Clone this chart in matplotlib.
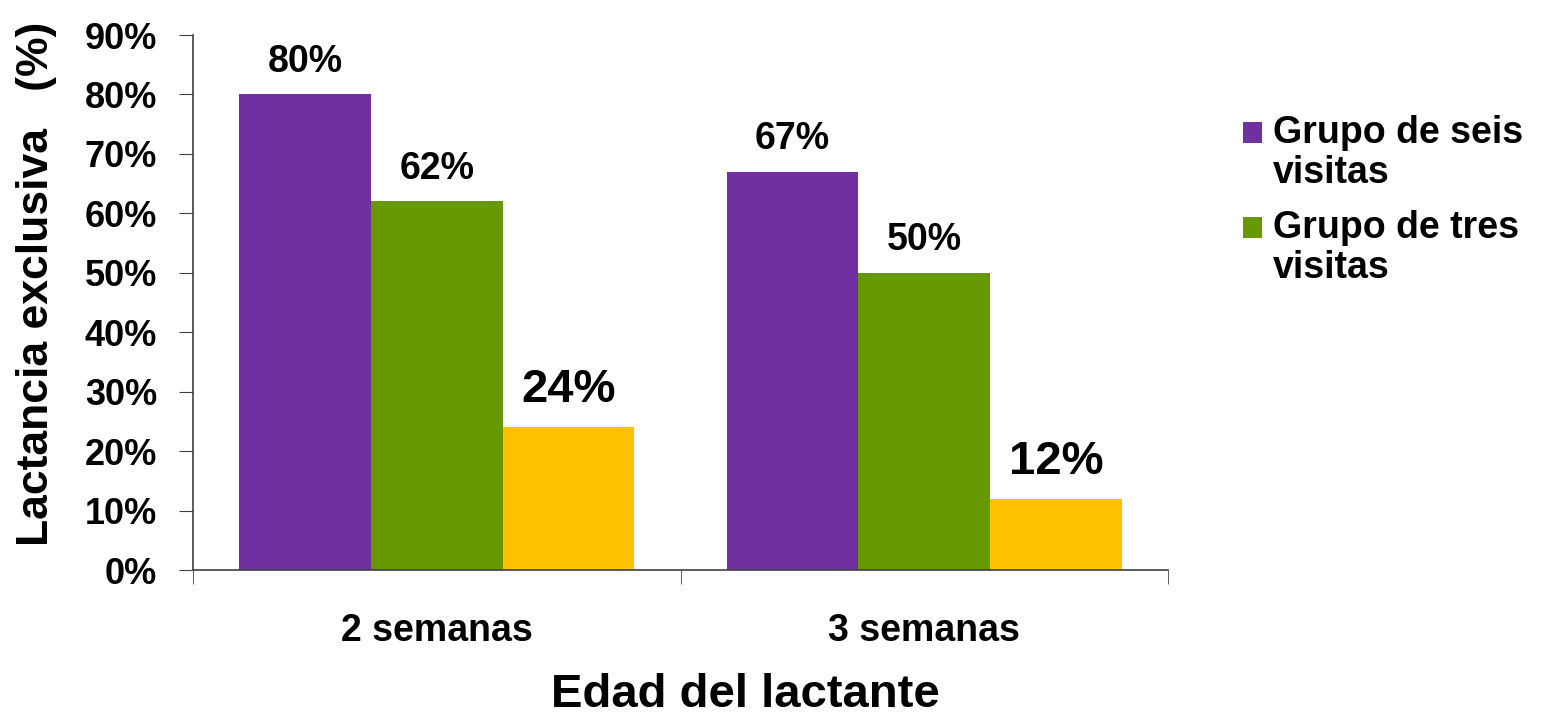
import matplotlib.pyplot as plt
from matplotlib.ticker import PercentFormatter

plt.rcParams['font.family'] = ['Liberation Sans', 'DejaVu Sans']
plt.rcParams['font.weight'] = 'bold'

# Datos
categorias = ['2 semanas', '3 semanas']
seis_visitas = [80, 67]
tres_visitas = [62, 50]
tercera_serie = [24, 12]

series = [
    (seis_visitas, '#7030a0', 'Grupo de seis\nvisitas', 27),
    (tres_visitas, '#669900', 'Grupo de tres\nvisitas', 27),
    (tercera_serie, '#ffc000', None, 34),
]

fig = plt.figure(figsize=(15.47, 7.16), dpi=100)
ax = fig.add_axes([0.1248, 0.2039, 0.6302, 0.7472])

ancho = 0.27
x = range(len(categorias))
for i, (valores, color, nombre, tam) in enumerate(series):
    pos = [xi + (i - 1) * ancho for xi in x]
    barras = ax.bar(pos, valores, width=ancho, color=color,
                    label=nombre if nombre else '_nolegend_')
    for b, v in zip(barras, valores):
        ax.text(b.get_x() + b.get_width() / 2, v + 2.5, f'{v}%',
                ha='center', va='bottom', fontsize=tam, fontweight='bold')

ax.set_xlim(-0.5, 1.5)
ax.set_ylim(0, 90)
ax.set_yticks(range(0, 91, 10))
ax.yaxis.set_major_formatter(PercentFormatter(decimals=0))
ax.set_xticks(list(x))
ax.set_xticklabels(categorias)
ax.set_xticks([-0.5, 0.5, 1.5], minor=True)
ax.tick_params(axis='x', which='major', length=0, pad=31, labelsize=27)
ax.tick_params(axis='x', which='minor', length=10, direction='out', color='#404040')
ax.tick_params(axis='y', length=10, direction='out', labelsize=26, pad=16, color='#404040')

for s in ['top', 'right']:
    ax.spines[s].set_visible(False)
for s in ['left', 'bottom']:
    ax.spines[s].set_color('#404040')
    ax.spines[s].set_linewidth(1.2)

ax.set_xlabel('Edad del lactante', fontsize=34, fontweight='bold', va='top')
ax.xaxis.set_label_coords(0.567, -0.193)
ax.set_ylabel('Lactancia exclusiva   (%)', fontsize=32, fontweight='bold')
ax.yaxis.set_label_coords(-0.14, 0.535)

fs = 27
leg = fig.legend(loc='upper left', bbox_to_anchor=(0.8035, 0.84), frameon=False,
                 fontsize=fs, handlelength=0.5, handleheight=0.5, handletextpad=0.3,
                 labelspacing=0.5, borderpad=0, borderaxespad=0)
for t in leg.get_texts():
    t.set_linespacing(1.15)
# cuadrito alineado con la primera linea del texto
for h in leg.legend_handles:
    h.set_y(h.get_y() + 0.55 * fs)

fig.savefig('out.png', dpi=100)
